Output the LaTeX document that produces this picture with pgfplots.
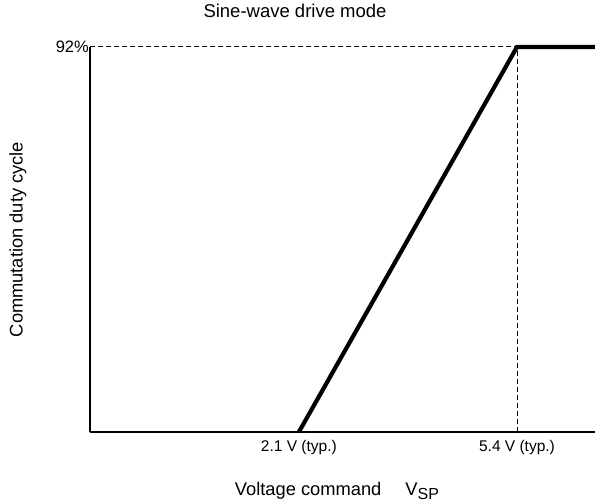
\documentclass[border=0pt]{standalone}
\usepackage{pgfplots}
\pgfplotsset{compat=1.18}
\usepackage{fontspec}
\setmainfont{Liberation Sans}
\begin{document}
\begin{tikzpicture}
\path[use as bounding box] (-90bp,-70bp) rectangle (505bp,432bp);
\begin{axis}[
  at={(0,0)}, anchor=south west,
  scale only axis, width=505bp, height=385bp,
  xmin=-1.06, xmax=6.58, ymin=0, ymax=92,
  axis x line*=bottom, axis y line*=left,
  axis line style={-, line width=2.4bp},
  clip=false,
  xtick={2.1,5.4}, xticklabels={2.1 V (typ.),5.4 V (typ.)},
  ytick={92}, yticklabels={92\%},
  major tick length=0pt,
  xticklabel style={font=\fontsize{15.5bp}{18bp}\selectfont, inner sep=0pt, yshift=-8bp},
  yticklabel style={font=\fontsize{16.5bp}{18bp}\selectfont, inner sep=0pt, xshift=-1bp},
  title={Sine-wave drive mode},
  title style={font=\fontsize{18.5bp}{22bp}\selectfont, at={(axis description cs:0.406,1.078)}, anchor=center, inner sep=0pt},
  xlabel={Voltage command\hspace{24bp}V\raisebox{-0.35ex}{\fontsize{16bp}{18bp}\selectfont SP}},
  xlabel style={font=\fontsize{18.3bp}{22bp}\selectfont, at={(axis description cs:0.489,-0.153)}, anchor=center, inner sep=0pt},
  ylabel={Commutation duty cycle},
  ylabel style={font=\fontsize{18.3bp}{22bp}\selectfont, at={(axis description cs:-0.1426,0.5)}, anchor=center, inner sep=0pt, rotate=0},
]
\addplot[black, line width=1bp, dash pattern=on 5bp off 3bp] coordinates {(-1.06,92) (5.4,92)};
\addplot[black, line width=1bp, dash pattern=on 5bp off 3bp] coordinates {(5.4,0) (5.4,92)};
\addplot[black, line width=4.2bp] coordinates {(2.1,0) (5.4,92) (6.58,92)};
\end{axis}
\end{tikzpicture}
\end{document}
